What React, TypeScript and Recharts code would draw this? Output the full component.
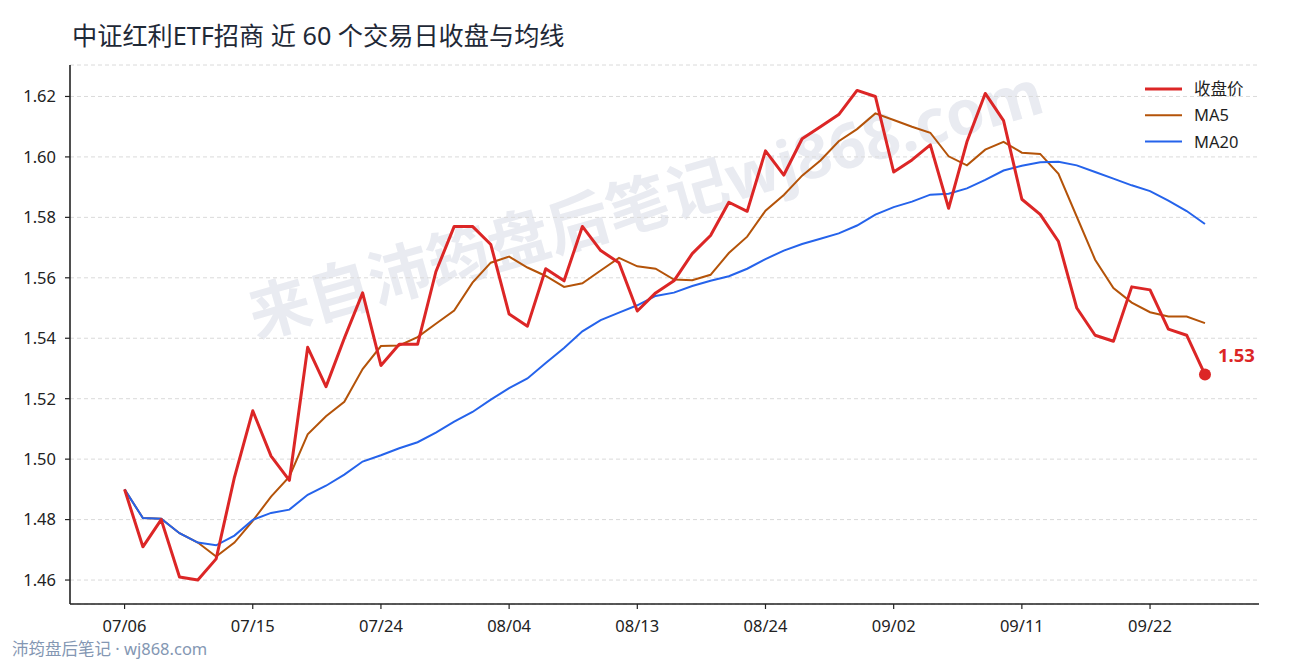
import React from 'react';
import { LineChart, Line, XAxis, YAxis, CartesianGrid } from 'recharts';

const FONT = '"Noto Sans", "Noto Sans CJK SC", sans-serif';

const dates = [
  '07/06', '07/07', '07/08', '07/09', '07/10', '07/13', '07/14', '07/15', '07/16', '07/17',
  '07/20', '07/21', '07/22', '07/23', '07/24', '07/27', '07/28', '07/29', '07/30', '07/31',
  '08/03', '08/04', '08/05', '08/06', '08/07', '08/10', '08/11', '08/12', '08/13', '08/14',
  '08/17', '08/18', '08/19', '08/20', '08/21', '08/24', '08/25', '08/26', '08/27', '08/28',
  '08/31', '09/01', '09/02', '09/03', '09/04', '09/07', '09/08', '09/09', '09/10', '09/11',
  '09/14', '09/15', '09/16', '09/17', '09/18', '09/21', '09/22', '09/23', '09/24', '09/25',
];

const closeValues = [
  1.490, 1.471, 1.480, 1.461, 1.460, 1.467, 1.494, 1.516, 1.501, 1.493,
  1.537, 1.524, 1.540, 1.555, 1.531, 1.538, 1.538, 1.562, 1.577, 1.577,
  1.571, 1.548, 1.544, 1.563, 1.559, 1.577, 1.569, 1.565, 1.549, 1.555,
  1.559, 1.568, 1.574, 1.585, 1.582, 1.602, 1.594, 1.606, 1.610, 1.614,
  1.622, 1.620, 1.595, 1.599, 1.604, 1.583, 1.605, 1.621, 1.612, 1.586,
  1.581, 1.572, 1.550, 1.541, 1.539, 1.557, 1.556, 1.543, 1.541, 1.528,
];

const ma5Values = [
  1.4900, 1.4805, 1.4803, 1.4755, 1.4724, 1.4678, 1.4724, 1.4796, 1.4876, 1.4942,
  1.5082, 1.5142, 1.5190, 1.5298, 1.5374, 1.5376, 1.5404, 1.5448, 1.5492, 1.5584,
  1.5650, 1.5670, 1.5634, 1.5606, 1.5570, 1.5582, 1.5624, 1.5666, 1.5638, 1.5630,
  1.5594, 1.5592, 1.5610, 1.5682, 1.5736, 1.5822, 1.5874, 1.5938, 1.5988, 1.6052,
  1.6092, 1.6144, 1.6122, 1.6100, 1.6080, 1.6002, 1.5972, 1.6024, 1.6050, 1.6014,
  1.6010, 1.5944, 1.5802, 1.5660, 1.5566, 1.5518, 1.5486, 1.5472, 1.5472, 1.5450,
];

const ma20Values = [
  1.4900, 1.4805, 1.4803, 1.4755, 1.4724, 1.4715, 1.4747, 1.4799, 1.4822, 1.4833,
  1.4882, 1.4912, 1.4949, 1.4992, 1.5013, 1.5036, 1.5056, 1.5088, 1.5124, 1.5156,
  1.5197, 1.5235, 1.5267, 1.5318, 1.5368, 1.5423, 1.5460, 1.5485, 1.5509, 1.5540,
  1.5551, 1.5573, 1.5590, 1.5605, 1.5630, 1.5662, 1.5690, 1.5712, 1.5729, 1.5747,
  1.5773, 1.5809, 1.5834, 1.5852, 1.5875, 1.5878, 1.5896, 1.5924, 1.5955, 1.5971,
  1.5982, 1.5984, 1.5972, 1.5950, 1.5928, 1.5906, 1.5887, 1.5855, 1.5821, 1.5778,
];

const xTickIndices = [0, 7, 14, 21, 28, 35, 42, 49, 56];
const yTicks = [1.46, 1.48, 1.5, 1.52, 1.54, 1.56, 1.58, 1.6, 1.62];

const seriesInfo = [
  { key: 'close', name: '收盘价', color: '#dc2626', width: 3 },
  { key: 'ma5', name: 'MA5', color: '#b45309', width: 2 },
  { key: 'ma20', name: 'MA20', color: '#2563eb', width: 2 },
];

const titleText = '中证红利ETF招商 近 60 个交易日收盘与均线';
const watermarkText = '来自沛筠盘后笔记wj868.com';
const footerText = '沛筠盘后笔记 · wj868.com';

const data = dates.map((d, i) => ({
  i,
  date: d,
  close: closeValues[i],
  ma5: ma5Values[i],
  ma20: ma20Values[i],
}));

const W = 1290;
const H = 660;

const lastIndex = data.length - 1;

const CloseDot = (p: any) => {
  if (p.index !== lastIndex) return <g key={`d${p.index}`} />;
  return (
    <g key="last-dot">
      <circle cx={p.cx} cy={p.cy} r={6} fill="#dc2626" stroke="none" />
      <text
        x={p.cx + 13}
        y={p.cy - 13}
        fill="#dc2626"
        fontSize={18.5}
        fontWeight={700}
        fontFamily={FONT}
      >
        {closeValues[lastIndex].toFixed(2)}
      </text>
    </g>
  );
};

export default function App() {
  return (
    <div
      style={{
        position: 'absolute',
        left: 0,
        top: 0,
        width: W,
        height: H,
        background: '#ffffff',
        fontFamily: FONT,
        overflow: 'hidden',
      }}
    >
      <svg
        width={W}
        height={H}
        style={{ position: 'absolute', left: 0, top: 0 }}
        fontFamily={FONT}
      >
        <text
          x={645}
          y={202}
          textAnchor="middle"
          dominantBaseline="central"
          fontSize={62}
          fontWeight={700}
          fill="#e9ebf1"
          transform="rotate(-16 645 202)"
        >
          {watermarkText}
        </text>
        <text x={72} y={45} fontSize={25.2} fill="#1f2937">
          {titleText}
        </text>
        <text x={12} y={655} fontSize={16.5} fill="#8497b3">
          {footerText}
        </text>
        {seriesInfo.map((s, k) => (
          <g key={s.key}>
            <line
              x1={1145}
              x2={1182}
              y1={89 + k * 26.3}
              y2={89 + k * 26.3}
              stroke={s.color}
              strokeWidth={s.width}
            />
            <text
              x={1194}
              y={89 + k * 26.3}
              dy="0.36em"
              fontSize={16.5}
              fill="#1f1f1f"
            >
              {s.name}
            </text>
          </g>
        ))}
      </svg>
      <div style={{ position: 'absolute', left: 0, top: 0 }}>
        <LineChart
          width={W}
          height={H}
          data={data}
          margin={{ top: 65, right: 31, bottom: 0, left: 0 }}
        >
          <CartesianGrid
            vertical={false}
            stroke="#dadada"
            strokeDasharray="4 3"
            strokeWidth={1}
          />
          <XAxis
            type="number"
            dataKey="i"
            domain={[-2.98, 61.95]}
            allowDataOverflow
            ticks={xTickIndices}
            tickFormatter={(v: number) => dates[v]}
            height={56}
            axisLine={{ stroke: '#222222', strokeWidth: 1.6 }}
            tickLine={{ stroke: '#222222', strokeWidth: 1.2 }}
            tickSize={5}
            tickMargin={11}
            tick={{ fill: '#222222', fontSize: 16.5, fontFamily: FONT }}
            interval={0}
          />
          <YAxis
            type="number"
            domain={[1.45207, 1.63041]}
            allowDataOverflow
            ticks={yTicks}
            tickFormatter={(v: number) => v.toFixed(2)}
            width={70}
            axisLine={{ stroke: '#222222', strokeWidth: 1.6 }}
            tickLine={{ stroke: '#222222', strokeWidth: 1.2 }}
            tickSize={5}
            tickMargin={9}
            tick={{ fill: '#222222', fontSize: 16.5, fontFamily: FONT }}
            interval={0}
          />
          <Line
            type="linear"
            dataKey="ma5"
            stroke="#b45309"
            strokeWidth={2}
            dot={false}
            activeDot={false}
            isAnimationActive={false}
          />
          <Line
            type="linear"
            dataKey="ma20"
            stroke="#2563eb"
            strokeWidth={2}
            dot={false}
            activeDot={false}
            isAnimationActive={false}
          />
          <Line
            type="linear"
            dataKey="close"
            stroke="#dc2626"
            strokeWidth={3}
            strokeLinejoin="round"
            dot={CloseDot}
            activeDot={false}
            isAnimationActive={false}
          />
        </LineChart>
      </div>
    </div>
  );
}
